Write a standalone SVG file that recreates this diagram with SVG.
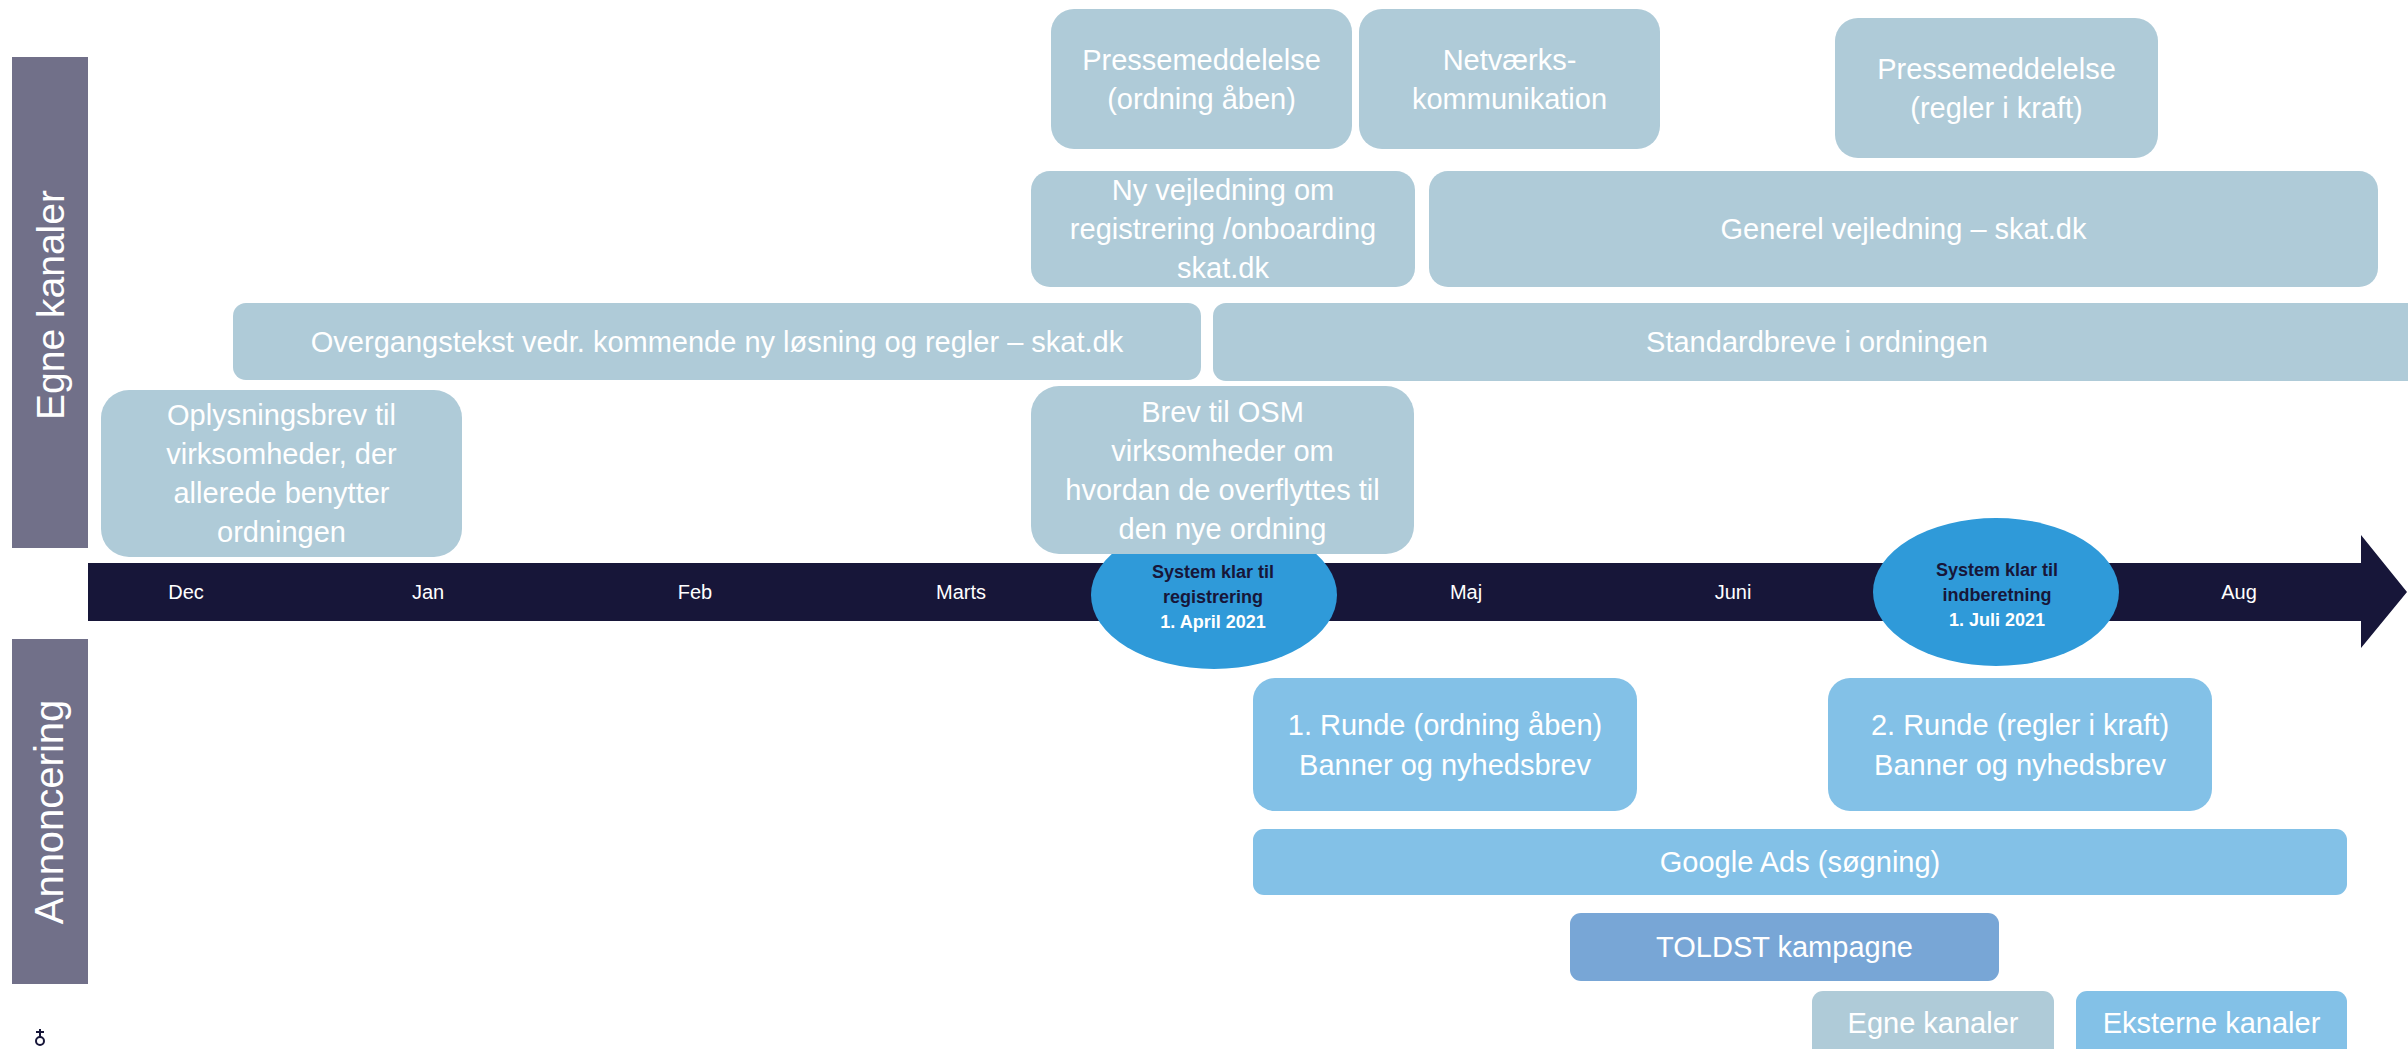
<svg xmlns="http://www.w3.org/2000/svg" width="2408" height="1049" viewBox="0 0 2408 1049">
  <style>
    .egne { fill: #AFCBD8; }
    .ann { fill: #83C1E7; }
    .toldst { fill: #78A6D6; }
    .side { fill: #717089; }
    .t { font-family: "Liberation Sans", Arial, sans-serif; font-size: 29px; fill: #FFFFFF; text-anchor: middle; }
    .side-t { font-family: "Liberation Sans", Arial, sans-serif; fill: #FFFFFF; text-anchor: middle; }
    .month { font-family: "Liberation Sans", Arial, sans-serif; font-size: 20px; fill: #FFFFFF; text-anchor: middle; }
    .ms { fill: #2F9AD9; }
    .ms-t { font-family: "Liberation Sans", Arial, sans-serif; font-size: 18px; font-weight: bold; text-anchor: middle; }
    .dark { fill: #171639; }
    .white { fill: #FFFFFF; }
  </style>
  <rect width="2408" height="1049" fill="#FFFFFF"/>

  <!-- Side labels -->
  <g id="side-egne">
    <rect class="side" x="12" y="57" width="76" height="491"/>
    <text class="side-t" font-size="39" transform="translate(64,305) rotate(-90)">Egne kanaler</text>
  </g>
  <g id="side-annoncering">
    <rect class="side" x="12" y="639" width="76" height="345"/>
    <text class="side-t" font-size="40" transform="translate(63,812) rotate(-90)">Annoncering</text>
  </g>

  <!-- Timeline arrow -->
  <g id="connectors">
    <path id="timeline" class="dark" d="M88,563 H2361 V535 L2407,592 L2361,648 V621 H88 Z"/>
  </g>
  <g id="months">
    <text class="month" x="186" y="599">Dec</text>
    <text class="month" x="428" y="599">Jan</text>
    <text class="month" x="695" y="599">Feb</text>
    <text class="month" x="961" y="599">Marts</text>
    <text class="month" x="1466" y="599">Maj</text>
    <text class="month" x="1733" y="599">Juni</text>
    <text class="month" x="2239" y="599">Aug</text>
  </g>

  <!-- Milestones -->
  <g id="milestone-april">
    <ellipse class="ms" cx="1214" cy="595" rx="123" ry="74"/>
    <text class="ms-t dark" x="1213" y="578">System klar til</text>
    <text class="ms-t dark" x="1213" y="603">registrering</text>
    <text class="ms-t white" x="1213" y="628">1. April 2021</text>
  </g>
  <g id="milestone-juli">
    <ellipse class="ms" cx="1996" cy="592" rx="123" ry="74"/>
    <text class="ms-t dark" x="1997" y="576">System klar til</text>
    <text class="ms-t dark" x="1997" y="601">indberetning</text>
    <text class="ms-t white" x="1997" y="626">1. Juli 2021</text>
  </g>

  <!-- Egne kanaler boxes -->
  <g id="pressemeddelelse-1">
    <rect class="egne" x="1051" y="9" width="301" height="140" rx="23"/>
    <text class="t" x="1201.5" y="70">Pressemeddelelse</text>
    <text class="t" x="1201.5" y="109">(ordning åben)</text>
  </g>
  <g id="netvaerk">
    <rect class="egne" x="1359" y="9" width="301" height="140" rx="23"/>
    <text class="t" x="1509.5" y="70">Netværks-</text>
    <text class="t" x="1509.5" y="109">kommunikation</text>
  </g>
  <g id="pressemeddelelse-2">
    <rect class="egne" x="1835" y="18" width="323" height="140" rx="23"/>
    <text class="t" x="1996.5" y="79">Pressemeddelelse</text>
    <text class="t" x="1996.5" y="118">(regler i kraft)</text>
  </g>
  <g id="ny-vejledning">
    <rect class="egne" x="1031" y="171" width="384" height="116" rx="19"/>
    <text class="t" x="1223" y="200">Ny vejledning om</text>
    <text class="t" x="1223" y="239">registrering /onboarding</text>
    <text class="t" x="1223" y="278">skat.dk</text>
  </g>
  <g id="generel-vejledning">
    <rect class="egne" x="1429" y="171" width="949" height="116" rx="19"/>
    <text class="t" x="1903.5" y="239">Generel vejledning – skat.dk</text>
  </g>
  <g id="overgangstekst">
    <rect class="egne" x="233" y="303" width="968" height="77" rx="13"/>
    <text class="t" x="717" y="352">Overgangstekst vedr. kommende ny løsning og regler – skat.dk</text>
  </g>
  <g id="standardbreve">
    <rect class="egne" x="1213" y="303" width="1210" height="78" rx="13"/>
    <text class="t" x="1817" y="352">Standardbreve i ordningen</text>
  </g>
  <g id="oplysningsbrev">
    <rect class="egne" x="101" y="390" width="361" height="167" rx="28"/>
    <text class="t" x="281.5" y="425">Oplysningsbrev til</text>
    <text class="t" x="281.5" y="464">virksomheder, der</text>
    <text class="t" x="281.5" y="503">allerede benytter</text>
    <text class="t" x="281.5" y="542">ordningen</text>
  </g>
  <g id="brev-osm">
    <rect class="egne" x="1031" y="386" width="383" height="168" rx="28"/>
    <text class="t" x="1222.5" y="422">Brev til OSM</text>
    <text class="t" x="1222.5" y="461">virksomheder om</text>
    <text class="t" x="1222.5" y="500">hvordan de overflyttes til</text>
    <text class="t" x="1222.5" y="539">den nye ordning</text>
  </g>

  <!-- Annoncering boxes -->
  <g id="runde-1">
    <rect class="ann" x="1253" y="678" width="384" height="133" rx="22"/>
    <text class="t" x="1445" y="735">1. Runde (ordning åben)</text>
    <text class="t" x="1445" y="775">Banner og nyhedsbrev</text>
  </g>
  <g id="runde-2">
    <rect class="ann" x="1828" y="678" width="384" height="133" rx="22"/>
    <text class="t" x="2020" y="735">2. Runde (regler i kraft)</text>
    <text class="t" x="2020" y="775">Banner og nyhedsbrev</text>
  </g>
  <g id="google-ads">
    <rect class="ann" x="1253" y="829" width="1094" height="66" rx="11"/>
    <text class="t" x="1800" y="872">Google Ads (søgning)</text>
  </g>
  <g id="toldst">
    <rect class="toldst" x="1570" y="913" width="429" height="68" rx="11"/>
    <text class="t" x="1784.5" y="957">TOLDST kampagne</text>
  </g>

  <!-- Legend -->
  <g id="legend-egne">
    <rect class="egne" x="1812" y="991" width="242" height="70" rx="11"/>
    <text class="t" x="1933" y="1033">Egne kanaler</text>
  </g>
  <g id="legend-eksterne">
    <rect class="ann" x="2076" y="991" width="271" height="70" rx="11"/>
    <text class="t" x="2211.5" y="1033">Eksterne kanaler</text>
  </g>

  <!-- Small logo mark -->
  <g id="logo" stroke="#171639" stroke-width="2" fill="none">
    <line x1="40" y1="1029" x2="40" y2="1037"/>
    <line x1="36" y1="1032" x2="44" y2="1032"/>
    <circle cx="40" cy="1041" r="4"/>
  </g>
</svg>
